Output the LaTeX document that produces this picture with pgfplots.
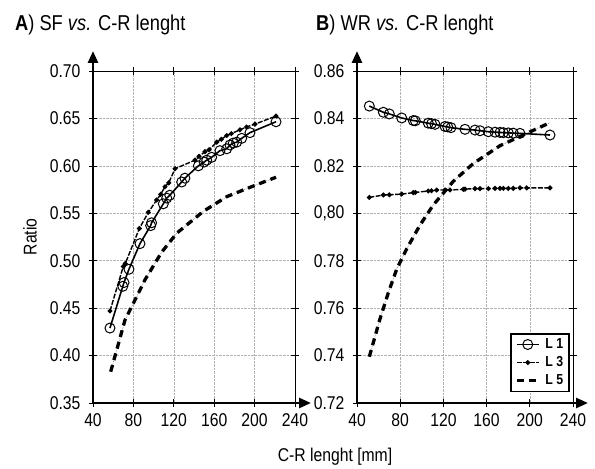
\documentclass[border=0pt]{standalone}
\usepackage{fontspec}
\setmainfont{Liberation Sans}[FakeStretch=0.85]
\usepackage{pgfplots}
\pgfplotsset{compat=1.18}
\usetikzlibrary{arrows.meta}

\pgfplotsset{
  panel/.style={
    scale only axis, anchor=south west,
    xmin=40, xmax=240, xtick={40,80,120,160,200,240},
    grid=major,
    major grid style={densely dotted, black!30, line width=0.6bp},
    axis line style={line width=0.7bp},
    tick align=center, major tick length=8bp,
    tick style={line width=0.7bp, black},
    tick label style={font=\fontsize{18.5bp}{20bp}\selectfont},
    xticklabel style={yshift=-3bp},
    yticklabel style={xshift=-5bp},
    /pgf/number format/assume math mode=true,
  },
  lone/.style={black, line width=1.6bp, mark=o, mark size=5bp,
    mark options={fill=white, line width=1bp, solid}},
  lthree/.style={black, line width=1.4bp, dash pattern=on 5bp off 1.5bp,
    mark=*, mark size=1.7bp, mark options={solid}},
  lfive/.style={black, line width=3.3bp, dash pattern=on 7bp off 5bp},
  lfivethin/.style={black!45, line width=0.7bp, densely dotted, forget plot},
}
\newcommand\ttl[2]{{\fontsize{21.5bp}{24bp}\selectfont\textbf{#1}) #2}}

\begin{document}
\begin{tikzpicture}
\path[use as bounding box] (0,0) rectangle (595bp,469bp);

% ---- panel A
\begin{axis}[panel, at={(93bp,66bp)}, width=202bp, height=332bp,
  ymin=0.35, ymax=0.70, ytick={0.35,0.40,0.45,0.50,0.55,0.60,0.65,0.70},
  yticklabel style={/pgf/number format/.cd, fixed, fixed zerofill, precision=2}]
\addplot[lfivethin] coordinates {
 (57.5,0.383) (71.7,0.4375) (86.5,0.469) (91.5,0.480) (108,0.509) (122.9,0.529)
 (149.2,0.552) (172.4,0.5675) (192.2,0.576) (221.2,0.588)};
\addplot[lfive] coordinates {
 (57.5,0.383) (71.7,0.4375) (86.5,0.469) (91.5,0.480) (108,0.509) (122.9,0.529)
 (149.2,0.552) (172.4,0.5675) (192.2,0.576) (221.2,0.588)};
\addplot[lthree] coordinates {
 (56.8,0.447) (70,0.494) (72,0.497) (85.9,0.534) (94.8,0.551) (103,0.564)
 (107,0.570) (111.3,0.578) (115,0.582) (121.2,0.597) (141,0.606) (145,0.610)
 (150.9,0.615) (155,0.617) (162.5,0.625) (167,0.628) (172.4,0.632) (177,0.634)
 (185.5,0.638) (192,0.641) (200.4,0.644) (221.2,0.6525)};
\addplot[lone] coordinates {
 (56.8,0.429) (69.5,0.473) (70.7,0.477) (75.6,0.491) (86.5,0.518) (97.1,0.537)
 (98,0.540) (109.6,0.560) (113,0.566) (116,0.569) (127.8,0.583) (131,0.587)
 (144.3,0.600) (150,0.604) (152.6,0.606) (157.5,0.609) (165.7,0.616) (172.4,0.618)
 (175.6,0.622) (178.9,0.624) (182.3,0.625) (187.2,0.629) (195.4,0.635) (221.2,0.6465)};
\end{axis}

% ---- panel B
\begin{axis}[panel, at={(357bp,66bp)}, width=216bp, height=332bp,
  ymin=0.72, ymax=0.86, ytick={0.72,0.74,0.76,0.78,0.80,0.82,0.84,0.86},
  yticklabels={0.72,0.74,0.76,0.78,{0,80},0.82,0.84,0.86},
  legend cell align=left,
  legend image code/.code={
    \draw[#1] (0bp,0bp) -- (22bp,0bp);
    \draw[#1, only marks] plot coordinates {(11bp,0bp)};},
  legend style={at={(0.986,0.033)}, anchor=south east, draw=black,
    line width=1.5bp, font=\bfseries\fontsize{14.5bp}{16bp}\selectfont,
    row sep=2.5bp, inner xsep=4bp, inner ysep=3bp,
    /tikz/every odd column/.append style={column sep=3bp}}]
\addplot[lfivethin] coordinates {
 (51.4,0.7395) (61.3,0.7555) (69,0.7665) (76.8,0.7765) (86,0.7850) (98.3,0.7950)
 (110.6,0.8035) (129.2,0.8135) (147.7,0.8210) (172.4,0.8285) (197.1,0.8337) (218.7,0.8382)};
\addplot[lone] coordinates {
 (51.4,0.8452) (64.4,0.8426) (69.9,0.8419) (81.4,0.8402) (92.1,0.8391) (94,0.8390)
 (106,0.8380) (109,0.8378) (112.2,0.8375) (121.5,0.8366) (124,0.8364) (127,0.8361)
 (140,0.8354) (149.3,0.8351) (153.9,0.8348) (161.6,0.8344) (167.8,0.8342) (172.4,0.8341)
 (175.5,0.8340) (180.1,0.8339) (184.7,0.8338) (190.9,0.8337) (218.7,0.8330)};
\addlegendentry{L 1}
\addplot[lthree] coordinates {
 (51.4,0.8067) (64.4,0.8077) (69.9,0.8078) (81.4,0.8081) (92.1,0.8087) (94,0.8088)
 (106,0.8094) (109,0.8095) (113.8,0.8098) (121.5,0.8098) (126.1,0.8098) (138.4,0.8101)
 (140,0.8102) (149.3,0.8104) (153.9,0.8104) (161.6,0.8104) (167.8,0.8105) (172.4,0.8105)
 (175.5,0.8105) (180.1,0.8105) (184.7,0.8105) (190.9,0.8107) (197.1,0.8107) (218.7,0.8107)};
\addlegendentry{L 3}
\addplot[lfive] coordinates {
 (51.4,0.7395) (61.3,0.7555) (69,0.7665) (76.8,0.7765) (86,0.7850) (98.3,0.7950)
 (110.6,0.8035) (129.2,0.8135) (147.7,0.8210) (172.4,0.8285) (197.1,0.8337) (218.7,0.8382)};
\addlegendentry{L 5}
\end{axis}

% thick axes with arrows
\begin{scope}[line width=2.6bp, -{Triangle[length=12bp, width=10bp]}]
\draw (93bp,66bp) -- (93bp,418bp);
\draw (93bp,66bp) -- (311bp,66bp);
\draw (357bp,66bp) -- (357bp,418bp);
\draw (357bp,66bp) -- (588bp,66bp);
\end{scope}

% titles and labels
\node[anchor=base west, inner sep=0] at (15bp,438bp) {\ttl{A}{SF \textit{vs.} C-R lenght}};
\node[anchor=base west, inner sep=0] at (316bp,438bp) {\ttl{B}{WR \textit{vs.} C-R lenght}};
\node[rotate=90, font=\fontsize{18.5bp}{20bp}\selectfont] at (30bp,232bp) {Ratio};
\node[anchor=base, inner sep=0, font=\fontsize{18.5bp}{20bp}\selectfont] at (335bp,8bp) {C-R lenght [mm]};
\end{tikzpicture}
\end{document}
